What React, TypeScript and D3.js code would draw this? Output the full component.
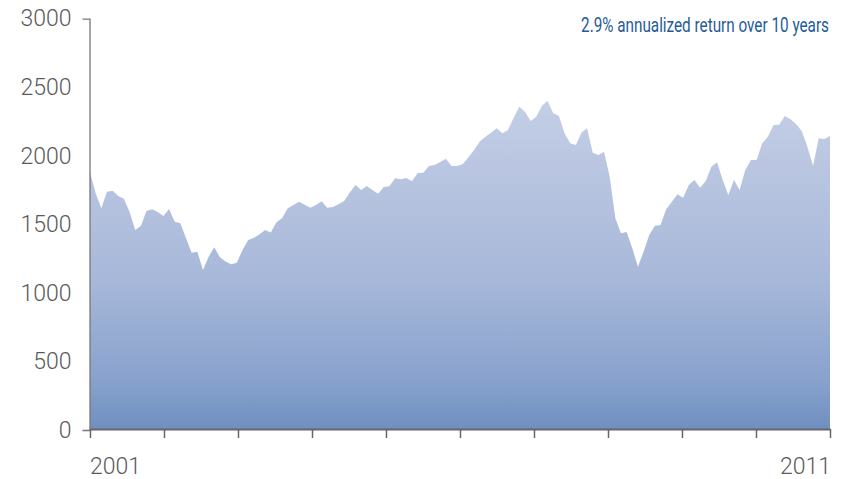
import { useEffect, useRef } from 'react';
import * as d3 from 'd3';

const WIDTH = 841;
const HEIGHT = 479;
const MARGIN = { top: 18.6, right: 11, bottom: 49, left: 90 };

// index level, roughly monthly, Jan 2001 -> early 2011
const values = [
  1884, 1726, 1617, 1738, 1745, 1706, 1687, 1592, 1458, 1488,
  1597, 1609, 1590, 1561, 1612, 1519, 1507, 1398, 1293, 1300,
  1167, 1264, 1332, 1259, 1228, 1208, 1220, 1313, 1386, 1402,
  1427, 1458, 1440, 1515, 1544, 1617, 1641, 1665, 1643, 1621,
  1641, 1668, 1621, 1626, 1646, 1670, 1731, 1787, 1750, 1779,
  1750, 1723, 1772, 1777, 1835, 1828, 1838, 1814, 1874, 1876,
  1925, 1932, 1954, 1978, 1925, 1925, 1940, 1989, 2042, 2103,
  2139, 2168, 2200, 2164, 2188, 2277, 2358, 2321, 2253, 2285,
  2365, 2401, 2309, 2292, 2164, 2091, 2078, 2168, 2200, 2022,
  2005, 2029, 1847, 1544, 1434, 1444, 1325, 1191, 1300, 1422,
  1490, 1495, 1609, 1665, 1719, 1694, 1787, 1823, 1767, 1816,
  1920, 1952, 1823, 1714, 1823, 1750, 1896, 1969, 1969, 2091,
  2139, 2224, 2226, 2290, 2266, 2231, 2180, 2066, 1925, 2127,
  2122, 2144,
];

const years = [2001, 2002, 2003, 2004, 2005, 2006, 2007, 2008, 2009, 2010, 2011];
const yearLabels = ['2001', '2011'];
const yTicks = [0, 500, 1000, 1500, 2000, 2500, 3000];
const note = '2.9% annualized return over 10 years';

const LABEL_FONT = 'Roboto, "Noto Sans", sans-serif';

export default function App() {
  const svgRef = useRef<SVGSVGElement>(null);

  useEffect(() => {
    if (!svgRef.current) return;
    const svg = d3.select(svgRef.current);
    svg.selectAll('*').remove();

    const x0 = MARGIN.left;
    const x1 = WIDTH - MARGIN.right;
    const yBottom = HEIGHT - MARGIN.bottom;

    const x = d3.scaleLinear().domain([0, values.length - 1]).range([x0, x1]);
    const xYear = d3.scaleLinear().domain([years[0], years[years.length - 1]]).range([x0, x1]);
    const y = d3.scaleLinear().domain([0, 3000]).range([yBottom, MARGIN.top]);

    // gradient fill
    const defs = svg.append('defs');
    const grad = defs
      .append('linearGradient')
      .attr('id', 'areaGrad')
      .attr('gradientUnits', 'userSpaceOnUse')
      .attr('x1', 0)
      .attr('x2', 0)
      .attr('y1', 95)
      .attr('y2', yBottom);
    grad.append('stop').attr('offset', 0).attr('stop-color', '#c5cfe6');
    grad.append('stop').attr('offset', 0.55).attr('stop-color', '#a8b8d9');
    grad.append('stop').attr('offset', 0.85).attr('stop-color', '#88a2cd');
    grad.append('stop').attr('offset', 1).attr('stop-color', '#6f8fc0');

    const area = d3
      .area<number>()
      .x((_, i) => x(i))
      .y0(y(0))
      .y1((d) => y(d));

    svg.append('path').datum(values).attr('d', area).attr('fill', 'url(#areaGrad)');

    // Y axis: only end ticks
    const yAxis = svg
      .append('g')
      .attr('transform', `translate(${x0 - 0.5},0)`)
      .call(
        d3
          .axisLeft(y)
          .tickValues(yTicks)
          .tickSize(0)
          .tickSizeOuter(7)
          .tickPadding(18)
          .tickFormat(d3.format('d'))
      );
    yAxis.select('.domain').attr('stroke', '#777').attr('stroke-width', 1.3);
    yAxis
      .selectAll('text')
      .attr('font-family', LABEL_FONT)
      .attr('font-weight', 300)
      .attr('font-size', 23)
      .attr('fill', '#5a5a5a');

    // X axis
    const xAxis = svg
      .append('g')
      .attr('transform', `translate(0,${yBottom - 1})`)
      .call(d3.axisBottom(xYear).tickValues(years).tickSize(9).tickSizeOuter(0).tickFormat(() => ''));
    xAxis.select('.domain').attr('stroke', '#666').attr('stroke-width', 2);
    xAxis.selectAll('.tick line').attr('stroke', '#666').attr('stroke-width', 1.5);

    yearLabels.forEach((lbl, i) => {
      svg
        .append('text')
        .attr('x', xYear(+lbl) + (i === 0 ? 0 : 1))
        .attr('y', 474)
        .attr('text-anchor', i === 0 ? 'start' : 'end')
        .attr('font-family', LABEL_FONT)
        .attr('font-weight', 300)
        .attr('font-size', 23)
        .attr('fill', '#5a5a5a')
        .text(lbl);
    });

    // annotation: condensed look by squeezing horizontally to the reference width
    const noteG = svg.append('g').attr('transform', 'translate(829,32)');
    const noteText = noteG
      .append('text')
      .attr('text-anchor', 'end')
      .attr('font-family', LABEL_FONT)
      .attr('font-size', 21)
      .attr('fill', '#1f5b98')
      .text(note);
    const natural = (noteText.node() as SVGTextElement).getComputedTextLength() || 248;
    noteG.attr('transform', `translate(829,32) scale(${248 / natural},1)`);
  }, []);

  return (
    <svg
      ref={svgRef}
      width={WIDTH}
      height={HEIGHT}
      style={{ position: 'absolute', left: 0, top: 0, background: '#fff' }}
    />
  );
}
